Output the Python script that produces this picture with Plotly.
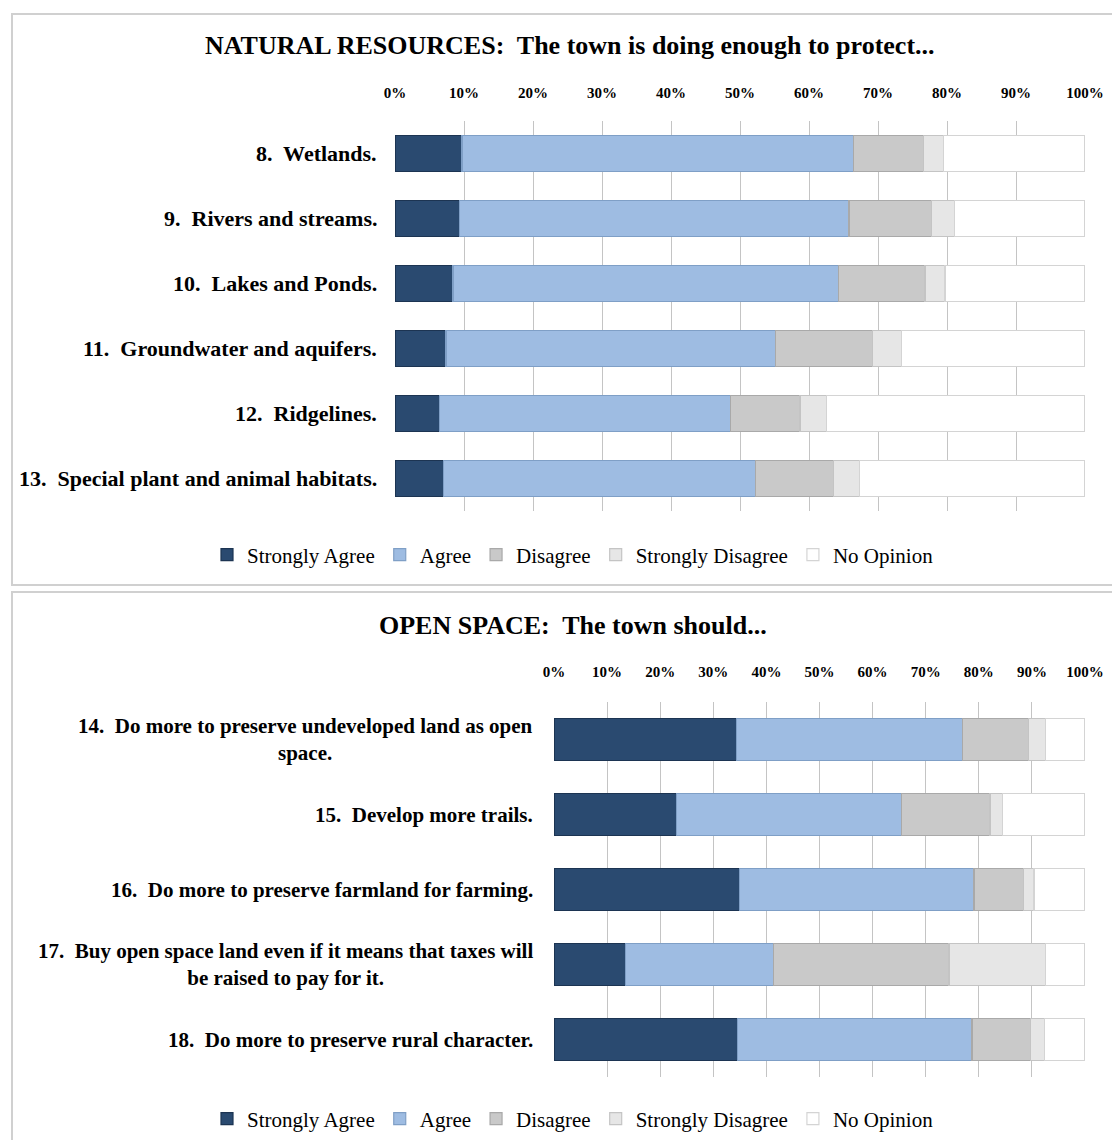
import plotly.graph_objects as go

series_names = ["Strongly Agree", "Agree", "Disagree", "Strongly Disagree", "No Opinion"]
series_colors = ["#2a4a70", "#9ebce2", "#c9c9c9", "#e6e6e6", "#ffffff"]
series_lines = ["#1c3452", "#7f9fc6", "#a9a9a9", "#c4c4c4", "#d4d4d4"]

title_top = "NATURAL RESOURCES:  The town is doing enough to protect..."
title_bottom = "OPEN SPACE:  The town should..."

cats_top = [
    "8.  Wetlands.",
    "9.  Rivers and streams.",
    "10.  Lakes and Ponds.",
    "11.  Groundwater and aquifers.",
    "12.  Ridgelines.",
    "13.  Special plant and animal habitats.",
]
top_strongly_agree = [9.7, 9.4, 8.4, 7.4, 6.5, 7.0]
top_agree = [56.8, 56.4, 55.9, 47.7, 42.1, 45.3]
top_disagree = [10.1, 12.0, 12.5, 14.1, 10.1, 11.2]
top_strongly_disagree = [2.9, 3.3, 2.9, 4.2, 3.8, 3.8]
top_no_opinion = [20.5, 18.9, 20.3, 26.6, 37.5, 32.7]

cats_bottom = [
    "14.  Do more to preserve undeveloped land as open<br>space.",
    "15.  Develop more trails.",
    "16.  Do more to preserve farmland for farming.",
    "17.  Buy open space land even if it means that taxes will<br>be raised to pay for it.",
    "18.  Do more to preserve rural character.",
]
bot_strongly_agree = [34.4, 23.1, 35.0, 13.5, 34.6]
bot_agree = [42.5, 42.3, 44.1, 27.8, 44.1]
bot_disagree = [12.5, 16.7, 9.3, 33.1, 11.1]
bot_strongly_disagree = [3.2, 2.4, 2.0, 18.2, 2.6]
bot_no_opinion = [7.4, 15.5, 9.6, 7.4, 7.6]

tick_vals = [0, 10, 20, 30, 40, 50, 60, 70, 80, 90, 100]
tick_text = ["0%", "10%", "20%", "30%", "40%", "50%", "60%", "70%", "80%", "90%", "100%"]

SERIF = "Liberation Serif"
OFF = 8  # default page body margin
W, H = 1104, 1132

fig = go.Figure()

top_data = [top_strongly_agree, top_agree, top_disagree, top_strongly_disagree, top_no_opinion]
bot_data = [bot_strongly_agree, bot_agree, bot_disagree, bot_strongly_disagree, bot_no_opinion]

for name, col, lc, vals in zip(series_names, series_colors, series_lines, top_data):
    fig.add_trace(go.Bar(
        y=cats_top, x=vals, name=name, orientation="h",
        marker=dict(color=col, line=dict(color=lc, width=1.2)),
        xaxis="x", yaxis="y", legend="legend",
    ))
for name, col, lc, vals in zip(series_names, series_colors, series_lines, bot_data):
    fig.add_trace(go.Bar(
        y=cats_bottom, x=vals, name=name, orientation="h",
        marker=dict(color=col, line=dict(color=lc, width=1.2)),
        xaxis="x2", yaxis="y2", legend="legend2",
    ))

def px_x(p):
    return (p - OFF) / W

def px_y(p):
    return 1 - (p - OFF) / H

annotations = []
for c in cats_top:
    annotations.append(dict(
        text=c, x=px_x(379), xref="paper", y=c, yref="y",
        xanchor="right", yanchor="middle", align="center", showarrow=False,
        font=dict(family=SERIF, size=22, color="#000000", weight="bold"),
    ))
for c in cats_bottom:
    annotations.append(dict(
        text=c, x=px_x(535), xref="paper", y=c, yref="y2",
        xanchor="right", yanchor="middle", align="center", showarrow=False,
        font=dict(family=SERIF, size=21, color="#000000", weight="bold"),
    ))
annotations.append(dict(
    text=title_top, x=px_x(570), y=px_y(45), xref="paper", yref="paper",
    xanchor="center", yanchor="middle", showarrow=False,
    font=dict(family=SERIF, size=26, color="#000000", weight="bold"),
))
annotations.append(dict(
    text=title_bottom, x=px_x(573), y=px_y(625), xref="paper", yref="paper",
    xanchor="center", yanchor="middle", showarrow=False,
    font=dict(family=SERIF, size=26, color="#000000", weight="bold"),
))

shapes = [
    dict(type="rect", xref="paper", yref="paper",
         x0=px_x(12), x1=px_x(1130), y0=px_y(585), y1=px_y(14),
         line=dict(color="#d0d0d0", width=2), fillcolor="rgba(0,0,0,0)", layer="below"),
    dict(type="rect", xref="paper", yref="paper",
         x0=px_x(12), x1=px_x(1130), y0=px_y(1160), y1=px_y(592),
         line=dict(color="#d0d0d0", width=2), fillcolor="rgba(0,0,0,0)", layer="below"),
]

axis_common = dict(
    range=[0, 100], tickvals=tick_vals, ticktext=tick_text, side="top",
    showgrid=True, gridcolor="#c4c4c4", gridwidth=1, zeroline=False,
    showline=False, ticks="", fixedrange=True, automargin=False,
    tickfont=dict(family=SERIF, size=15, color="#000000", weight="bold"),
)
yaxis_common = dict(autorange="reversed", showticklabels=False, showgrid=False,
                    zeroline=False, ticks="", automargin=False, fixedrange=True)

legend_common = dict(
    orientation="h", xanchor="center", yanchor="middle", traceorder="normal",
    font=dict(family=SERIF, size=21, color="#000000"), itemwidth=30,
    bgcolor="rgba(0,0,0,0)",
)

fig.update_layout(
    width=W, height=H, autosize=False,
    margin=dict(l=0, r=0, t=0, b=0, autoexpand=False),
    paper_bgcolor="#ffffff", plot_bgcolor="#ffffff",
    barmode="stack", bargap=0.45,
    xaxis=dict(domain=[px_x(395), px_x(1085)], anchor="y", ticklabelstandoff=19, **axis_common),
    yaxis=dict(domain=[px_y(511), px_y(121)], anchor="x", **yaxis_common),
    xaxis2=dict(domain=[px_x(554), px_x(1085)], anchor="y2", ticklabelstandoff=21, **axis_common),
    yaxis2=dict(domain=[px_y(1077), px_y(702)], anchor="x2", **yaxis_common),
    legend=dict(x=px_x(573), y=px_y(555), **legend_common),
    legend2=dict(x=px_x(573), y=px_y(1119), **legend_common),
    annotations=annotations,
    shapes=shapes,
    showlegend=True,
)

fig.write_html("out.html")
